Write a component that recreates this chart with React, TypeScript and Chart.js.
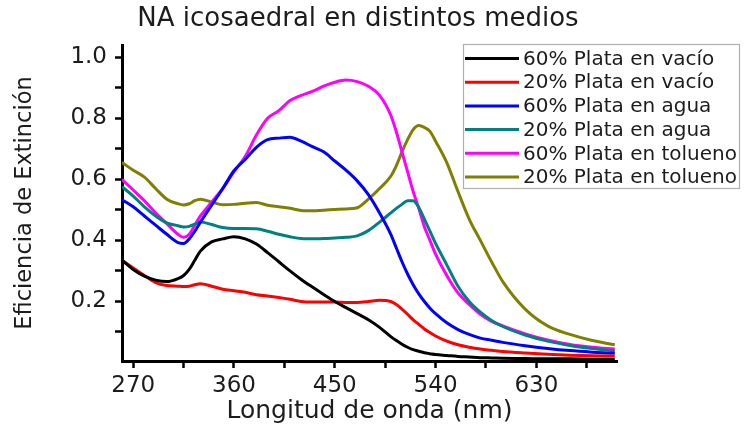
import { useEffect, useRef } from "react";
import { Chart, registerables } from "chart.js";

Chart.register(...registerables);

const TITLE = "NA icosaedral en distintos medios";
const X_TITLE = "Longitud de onda (nm)";
const Y_TITLE = "Eficiencia de Extinción";

const wavelengths = [
  260, 270, 280, 290, 300, 310, 315, 320, 325, 330, 340, 350, 360, 370, 380, 390,
  400, 410, 420, 430, 440, 450, 460, 470, 480, 490, 500, 505, 510, 515, 520, 525,
  530, 535, 540, 550, 560, 570, 580, 590, 600, 620, 640, 660, 680, 700,
];

const seriesLabels = [
  "60% Plata en vacío",
  "20% Plata en vacío",
  "60% Plata en agua",
  "20% Plata en agua",
  "60% Plata en tolueno",
  "20% Plata en tolueno",
];

const seriesColors = ["#000000", "#ff0000", "#0000ff", "#008080", "#ff00ff", "#808000"];

const plata60Vacio = [
  0.335, 0.305, 0.283, 0.27, 0.265, 0.275, 0.285, 0.305, 0.335, 0.365, 0.395, 0.405, 0.412, 0.405, 0.388, 0.36,
  0.33, 0.3, 0.272, 0.247, 0.223, 0.2, 0.18, 0.16, 0.14, 0.115, 0.085, 0.072, 0.06, 0.05, 0.042, 0.037,
  0.032, 0.029, 0.026, 0.023, 0.02, 0.018, 0.016, 0.015, 0.014, 0.013, 0.012, 0.012, 0.011, 0.011,
];

const plata20Vacio = [
  0.335, 0.31, 0.285, 0.262, 0.252, 0.25, 0.249, 0.25, 0.255, 0.258, 0.25, 0.24, 0.235, 0.23, 0.222, 0.218,
  0.213, 0.207, 0.2, 0.198, 0.198, 0.198, 0.197, 0.197, 0.2, 0.204, 0.2, 0.19, 0.175, 0.158, 0.14, 0.125,
  0.11, 0.098, 0.087, 0.07, 0.058, 0.05, 0.044, 0.04, 0.036, 0.031, 0.027, 0.024, 0.022, 0.021,
];

const plata60Agua = [
  0.533, 0.51, 0.48, 0.45, 0.42, 0.393, 0.39, 0.405, 0.43, 0.46, 0.515, 0.57, 0.628, 0.665, 0.705, 0.73,
  0.735, 0.738, 0.725, 0.707, 0.69, 0.66, 0.63, 0.595, 0.55, 0.49, 0.42, 0.375, 0.33, 0.29, 0.255, 0.225,
  0.2, 0.178, 0.16, 0.13, 0.108, 0.092, 0.08, 0.073, 0.066, 0.055, 0.046, 0.039, 0.034, 0.03,
];

const plata20Agua = [
  0.576, 0.545, 0.51, 0.48, 0.457, 0.448, 0.444, 0.446, 0.453, 0.46, 0.452, 0.442, 0.439, 0.439, 0.438, 0.43,
  0.42, 0.412, 0.406, 0.405, 0.406, 0.408, 0.41, 0.415, 0.432, 0.46, 0.49, 0.505, 0.518, 0.53, 0.53, 0.508,
  0.47, 0.43, 0.39, 0.32, 0.25, 0.2, 0.165, 0.138, 0.118, 0.09, 0.07, 0.056, 0.046, 0.038,
];

const plata60Tolueno = [
  0.6, 0.565, 0.53, 0.49, 0.455, 0.42, 0.41, 0.42, 0.45, 0.48, 0.525, 0.57, 0.625, 0.675, 0.745, 0.8,
  0.825, 0.858, 0.875, 0.888, 0.905, 0.918, 0.925, 0.92, 0.905, 0.875, 0.81, 0.755, 0.69, 0.625, 0.56, 0.505,
  0.445, 0.4, 0.355, 0.285, 0.228, 0.19, 0.158, 0.135, 0.12, 0.094, 0.074, 0.059, 0.05, 0.044,
];

const plata20Tolueno = [
  0.655, 0.63, 0.607, 0.57, 0.535, 0.52, 0.516, 0.52, 0.53, 0.535, 0.526, 0.517, 0.518, 0.522, 0.524, 0.515,
  0.51, 0.505, 0.498, 0.497, 0.499, 0.501, 0.503, 0.507, 0.535, 0.57, 0.61, 0.645, 0.69, 0.73, 0.763, 0.776,
  0.77, 0.757, 0.725, 0.655, 0.56, 0.47, 0.4, 0.33, 0.265, 0.175, 0.12, 0.092, 0.072, 0.058,
];

const seriesValues = [plata60Vacio, plata20Vacio, plata60Agua, plata20Agua, plata60Tolueno, plata20Tolueno];

const xTickValues = [270, 315, 360, 405, 450, 495, 540, 585, 630, 675];
const xLabelValues = [270, 360, 450, 540, 630];
const yTickValues = [0.1, 0.2, 0.3, 0.4, 0.5, 0.6, 0.7, 0.8, 0.9, 1.0];
const yLabelValues = [0.2, 0.4, 0.6, 0.8, 1.0];

const FONT = "'DejaVu Sans', 'Liberation Sans', sans-serif";
const TEXT = "#1c1c1c";

const overlayPlugin = {
  id: "overlay",
  afterDraw(chart: any) {
    const ctx = chart.ctx as CanvasRenderingContext2D;
    ctx.save();
    // title
    ctx.font = `26px ${FONT}`;
    ctx.fillStyle = TEXT;
    ctx.textAlign = "center";
    ctx.textBaseline = "middle";
    ctx.fillText(TITLE, 358, 19);
    // legend
    const bx = 463, by = 44, bw = 276, bh = 144;
    ctx.fillStyle = "#ffffff";
    ctx.fillRect(bx, by, bw, bh);
    ctx.strokeStyle = "#b0b0b0";
    ctx.lineWidth = 1.2;
    ctx.strokeRect(bx + 0.5, by + 0.5, bw, bh);
    ctx.font = `20px ${FONT}`;
    ctx.textAlign = "left";
    chart.data.datasets.forEach((ds: any, i: number) => {
      const y = 58.5 + i * 23.7;
      ctx.strokeStyle = ds.borderColor;
      ctx.lineWidth = 3;
      ctx.beginPath();
      ctx.moveTo(465, y);
      ctx.lineTo(519, y);
      ctx.stroke();
      ctx.fillStyle = TEXT;
      ctx.fillText(ds.label, 523, y + 1);
    });
    ctx.restore();
  },
};

export default function App() {
  const ref = useRef<HTMLCanvasElement | null>(null);

  useEffect(() => {
    document.body.style.margin = "0";
    const canvas = ref.current;
    if (!canvas) return;
    const chart = new Chart(canvas, {
      type: "line",
      data: {
        datasets: seriesLabels.map((label, i) => ({
          label,
          data: wavelengths.map((x, j) => ({ x, y: seriesValues[i][j] })),
          borderColor: seriesColors[i],
          backgroundColor: seriesColors[i],
          borderWidth: 3,
          pointRadius: 0,
          cubicInterpolationMode: "monotone" as const,
          fill: false,
        })),
      },
      options: {
        animation: false,
        responsive: false,
        devicePixelRatio: 1,
        layout: { padding: { top: 45, left: 0, right: 128, bottom: 0 } },
        plugins: {
          legend: { display: false },
          title: { display: false },
          tooltip: { enabled: false },
        },
        scales: {
          x: {
            type: "linear",
            min: 260,
            max: 702,
            afterBuildTicks: (s: any) => {
              s.ticks = xTickValues.map((v) => ({ value: v }));
            },
            afterFit: (s: any) => {
              s.height = 71;
            },
            ticks: {
              autoSkip: false,
              maxRotation: 0,
              padding: 4,
              color: TEXT,
              font: { family: FONT, size: 23 },
              callback: (v: any) => (xLabelValues.includes(Number(v)) ? String(v) : ""),
            },
            grid: {
              display: true,
              drawOnChartArea: false,
              drawTicks: true,
              tickLength: 7,
              tickColor: "#000",
              tickWidth: 2.5,
            },
            border: { display: true, color: "#000", width: 3 },
            title: {
              display: true,
              text: X_TITLE,
              color: TEXT,
              font: { family: FONT, size: 25 },
              padding: { top: 0, bottom: 6 },
            },
          },
          y: {
            type: "linear",
            min: 0.005,
            max: 1.04,
            afterBuildTicks: (s: any) => {
              s.ticks = yTickValues.map((v) => ({ value: v }));
            },
            afterFit: (s: any) => {
              s.width = 122;
            },
            ticks: {
              autoSkip: false,
              padding: 8,
              color: TEXT,
              font: { family: FONT, size: 23 },
              callback: (v: any) =>
                yLabelValues.some((l) => Math.abs(l - Number(v)) < 1e-6) ? Number(v).toFixed(1) : "",
            },
            grid: {
              display: true,
              drawOnChartArea: false,
              drawTicks: true,
              tickLength: 7,
              tickColor: "#000",
              tickWidth: 2.5,
            },
            border: { display: true, color: "#000", width: 3 },
            title: {
              display: true,
              text: Y_TITLE,
              color: TEXT,
              font: { family: FONT, size: 22.5 },
              padding: { top: 12, bottom: 0 },
            },
          },
        },
      },
      plugins: [overlayPlugin],
    });
    return () => chart.destroy();
  }, []);

  return (
    <canvas
      ref={ref}
      width={745}
      height={432}
      style={{ display: "block", width: "745px", height: "432px" }}
    />
  );
}
